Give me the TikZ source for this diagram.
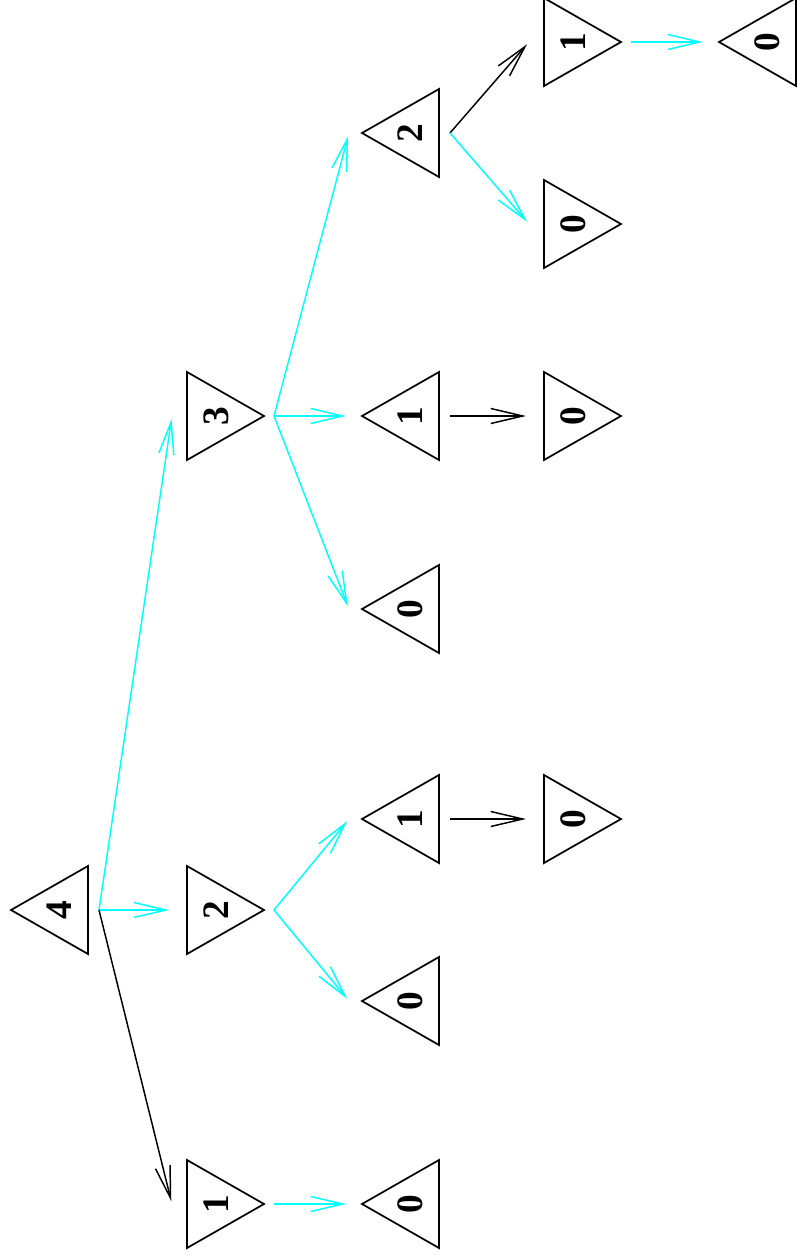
\documentclass[tikz,border=0pt]{standalone}
\usepackage{fontspec}
\setmainfont{Liberation Serif}
\usetikzlibrary{arrows.meta}
\definecolor{cy}{RGB}{0,255,255}
\tikzset{
  tri/.style={draw=black, line width=1.3pt, line join=miter},
  lbl/.style={rotate=90, inner sep=0pt, font=\fontsize{28}{28}\selectfont\bfseries},
  edge/.style={line width=1.1pt, shorten >=2.25pt, -{Straight Barb[length=24pt,width=11.25pt]}},
  cedge/.style={edge, draw=cy},
  kedge/.style={edge, draw=black},
}
% left-pointing triangle: name, x of vertical edge, y, label
\newcommand\TriL[4]{%
  \draw[tri] (#2,#3-44) -- (#2,#3+44) -- (#2-77,#3) -- cycle;
  \node[lbl] (#1) at (#2-29,#3) {#4};
  \coordinate (#1-out) at (#2+11,#3);
  \coordinate (#1-in) at (#2-90,#3);
}
% right-pointing triangle: name, x of vertical edge, y, label
\newcommand\TriR[4]{%
  \draw[tri] (#2,#3-44) -- (#2,#3+44) -- (#2+77,#3) -- cycle;
  \node[lbl] (#1) at (#2+29,#3) {#4};
  \coordinate (#1-out) at (#2+87,#3);
  \coordinate (#1-in) at (#2-15,#3);
}
\begin{document}
\begin{tikzpicture}[x=0.75pt,y=-0.75pt]
\useasboundingbox (0,0) rectangle (796,1259);
% level 0
\TriL{n4}{88}{910}{4}
% level 1
\TriR{a3}{187}{416}{3}
\TriR{a2}{187}{910}{2}
\TriR{a1}{187}{1204}{1}
% level 2
\TriL{b2}{439}{133}{2}
\TriL{b1}{439}{416}{1}
\TriL{b0}{439}{609}{0}
\TriL{c1}{439}{819}{1}
\TriL{c0}{439}{1001}{0}
\TriL{d0}{439}{1204}{0}
% level 3
\TriR{e1}{544}{42}{1}
\TriR{e0}{544}{224}{0}
\TriR{f0}{544}{416}{0}
\TriR{g0}{544}{819}{0}
% level 4
\TriL{h0}{796}{42}{0}
% edges
\draw[cedge] (n4-out) -- (a3-in);
\draw[cedge] (n4-out) -- (a2-in);
\draw[kedge] (n4-out) -- (a1-in);
\draw[cedge] (a3-out) -- (b2-in);
\draw[cedge] (a3-out) -- (b1-in);
\draw[cedge] (a3-out) -- (b0-in);
\draw[cedge] (a2-out) -- (c1-in);
\draw[cedge] (a2-out) -- (c0-in);
\draw[cedge] (a1-out) -- (d0-in);
\draw[kedge] (b2-out) -- (e1-in);
\draw[cedge] (b2-out) -- (e0-in);
\draw[kedge] (b1-out) -- (f0-in);
\draw[kedge] (c1-out) -- (g0-in);
\draw[cedge] (e1-out) -- (h0-in);
\end{tikzpicture}
\end{document}
